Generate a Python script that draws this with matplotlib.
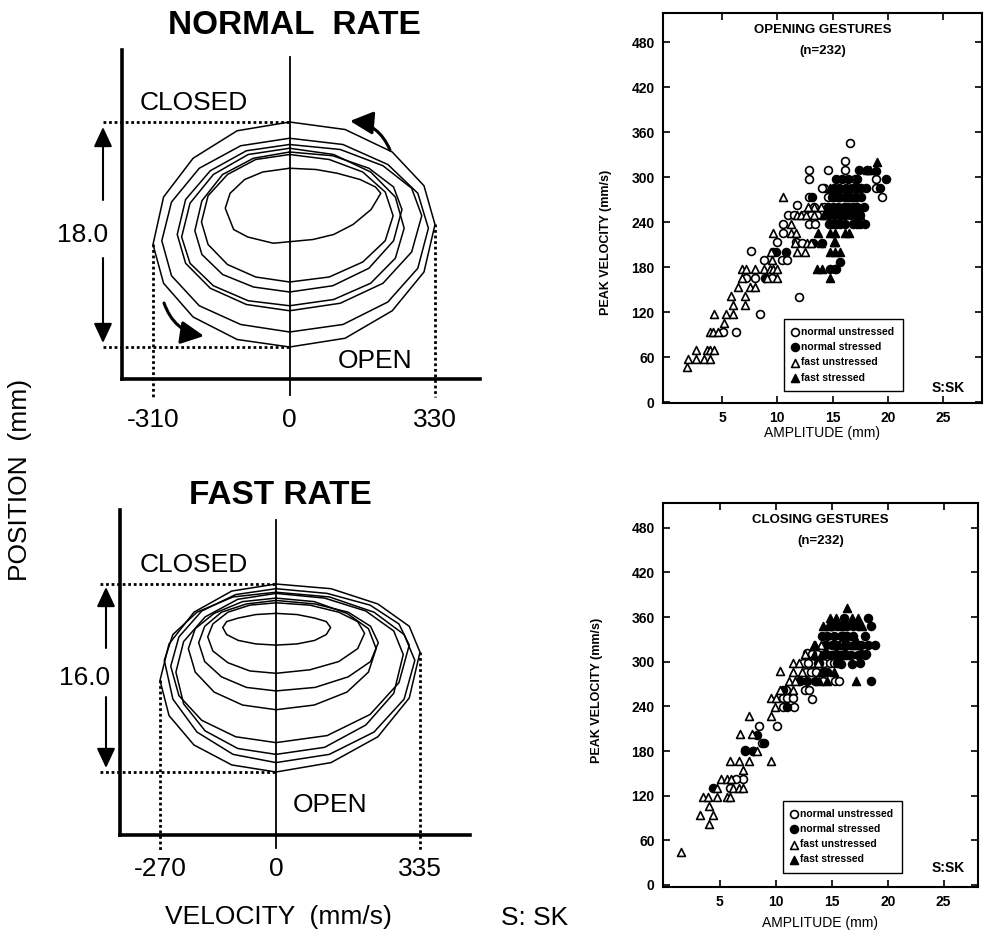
import matplotlib
matplotlib.use("Agg")
import matplotlib.pyplot as plt

plt.rcParams["font.family"] = ["Liberation Sans", "DejaVu Sans"]

# phase plane traces, (velocity mm/s, position mm), one list per cycle
normal_loops = [
    [(0, 18.0), (126, 17.4), (233, 15.6), (305, 12.9), (330, 9.8), (305, 6.0), (233, 2.9), (126, 0.7),
     (0, 0.0), (-119, 0.6), (-219, 2.4), (-286, 5.1), (-310, 8.2), (-286, 12.0), (-219, 15.1), (-119, 17.3)],
    [(0, 16.7), (121, 16.2), (223, 14.6), (291, 12.3), (315, 9.5), (291, 6.3), (223, 3.6), (121, 1.8),
     (0, 1.2), (-111, 1.8), (-205, 3.3), (-268, 5.7), (-290, 8.5), (-268, 11.6), (-205, 14.3), (-111, 16.1)],
    [(0, 16.2), (115, 15.8), (212, 14.5), (277, 12.7), (300, 10.5), (277, 7.6), (212, 5.1), (115, 3.5),
     (0, 2.9), (-98, 3.4), (-180, 4.7), (-236, 6.7), (-255, 9.0), (-236, 11.8), (-180, 14.1), (-98, 15.7)],
    [(0, 15.9), (100, 15.4), (184, 14.0), (240, 12.0), (260, 9.5), (240, 7.1), (184, 5.1), (100, 3.8),
     (0, 3.3), (-94, 3.7), (-173, 4.9), (-226, 6.7), (-245, 8.8), (-226, 11.5), (-173, 13.8), (-94, 15.4)],
    [(0, 15.6), (98, 15.3), (180, 14.3), (236, 12.8), (255, 11.0), (236, 8.5), (180, 6.3), (98, 4.9),
     (0, 4.4), (-82, 4.8), (-152, 5.8), (-199, 7.4), (-215, 9.3), (-199, 11.7), (-152, 13.8), (-82, 15.1)],
    [(0, 15.4), (90, 15.0), (166, 14.0), (217, 12.4), (235, 10.5), (217, 8.5), (166, 6.8), (90, 5.6),
     (0, 5.2), (-77, 5.6), (-141, 6.6), (-185, 8.2), (-200, 10.0), (-185, 12.1), (-141, 13.8), (-77, 15.0)],
    [(0, 14.3), (60, 14.2), (108, 13.9), (160, 13.4), (195, 12.8), (207, 12.3), (185, 11.0), (144, 9.8),
     (100, 9.0), (53, 8.6), (-37, 8.3), (-95, 8.8), (-127, 9.4), (-146, 11.1), (-135, 12.3), (-102, 13.4),
     (-61, 14.0)],
]

fast_loops = [
    [(0, 16.0), (128, 15.6), (237, 14.3), (310, 12.4), (335, 10.2), (310, 6.3), (237, 3.0), (128, 0.8),
     (0, 0.0), (-103, 0.6), (-191, 2.3), (-249, 4.8), (-270, 7.8), (-249, 10.9), (-191, 13.6), (-103, 15.4)],
    [(0, 15.3), (124, 14.9), (228, 13.6), (298, 11.7), (323, 9.5), (298, 6.2), (228, 3.4), (124, 1.5),
     (0, 0.8), (-100, 1.5), (-184, 3.4), (-240, 6.2), (-260, 9.5), (-240, 11.7), (-184, 13.6), (-100, 14.9)],
    [(0, 15.2), (113, 14.8), (209, 13.7), (274, 12.0), (296, 10.0), (274, 6.7), (209, 4.0), (113, 2.1),
     (0, 1.5), (-89, 2.0), (-165, 3.5), (-215, 5.8), (-233, 8.5), (-215, 11.1), (-165, 13.2), (-89, 14.7)],
    [(0, 15.6), (119, 15.2), (219, 14.2), (286, 12.6), (310, 10.8), (286, 7.6), (219, 4.9), (119, 3.1),
     (0, 2.5), (-94, 3.0), (-173, 4.4), (-226, 6.5), (-245, 9.0), (-226, 11.5), (-173, 13.7), (-94, 15.1)],
    [(0, 14.8), (89, 14.5), (165, 13.5), (215, 12.2), (233, 10.5), (215, 8.5), (165, 6.8), (89, 5.7),
     (0, 5.3), (-78, 5.7), (-144, 6.8), (-188, 8.5), (-204, 10.5), (-188, 12.2), (-144, 13.5), (-78, 14.5)],
    [(0, 14.6), (91, 14.3), (168, 13.6), (220, 12.4), (238, 11.0), (220, 9.4), (168, 8.1), (91, 7.2),
     (0, 6.9), (-69, 7.2), (-127, 8.1), (-166, 9.4), (-180, 11.0), (-166, 12.4), (-127, 13.6), (-69, 14.3)],
    [(0, 14.4), (79, 14.2), (146, 13.6), (190, 12.8), (206, 11.8), (190, 10.5), (146, 9.4), (79, 8.7),
     (0, 8.4), (-61, 8.6), (-112, 9.3), (-147, 10.3), (-159, 11.5), (-147, 12.6), (-112, 13.6), (-61, 14.2)],
    [(0, 13.5), (49, 13.4), (90, 13.1), (117, 12.8), (127, 12.3), (117, 11.7), (90, 11.2), (49, 10.9),
     (0, 10.8), (-47, 10.9), (-88, 11.2), (-115, 11.7), (-124, 12.3), (-115, 12.8), (-88, 13.1), (-47, 13.4)],
]

# peak velocity vs amplitude, (amplitude mm, peak velocity mm/s)
series_labels = ["normal unstressed", "normal stressed", "fast unstressed", "fast stressed"]
amp_ticks = [5, 10, 15, 20, 25]
vel_ticks = [0, 60, 120, 180, 240, 300, 360, 420, 480]

open_normal_unstr = [
    (5.1, 94), (6.3, 94), (8.4, 117), (12.0, 140), (7.6, 202), (8.8, 189), (10.4, 189), (10.9, 189),
    (7.2, 166), (8.0, 166), (10.0, 214), (10.5, 225), (10.5, 237), (11.7, 214), (11.0, 249),
    (11.8, 263), (12.9, 274), (12.9, 297), (12.9, 309), (12.9, 237), (13.4, 237), (14.2, 285),
    (14.6, 309), (14.6, 274), (16.1, 322), (16.1, 309), (16.6, 346), (17.0, 297), (18.9, 297),
    (18.9, 285), (19.5, 273), (15.2, 177), (13.3, 260), (15.1, 274), (15.7, 274), (11.5, 249),
    (12.3, 249), (13.0, 249), (14.2, 260), (16.3, 274), (17.3, 285), (12.2, 212), (9.5, 166),
    (13.6, 249), (14.0, 285), (16.9, 285)]
open_normal_str = [
    (10.8, 200), (15.7, 187), (18.9, 308), (19.8, 297), (19.3, 285), (18.1, 309), (17.2, 297),
    (15.1, 285), (15.6, 285), (16.2, 285), (16.8, 285), (15.5, 274), (16.1, 274), (17.1, 274),
    (15.0, 260), (15.5, 260), (16.0, 260), (17.2, 260), (14.7, 249), (15.1, 249), (16.6, 249),
    (17.5, 249), (14.7, 237), (15.3, 237), (16.1, 237), (16.8, 237), (17.5, 237), (13.1, 274),
    (9.6, 200), (9.9, 200), (8.9, 166), (14.0, 212), (13.2, 212), (16.4, 260), (14.8, 177),
    (15.3, 177), (17.6, 285), (18.0, 285), (14.9, 274), (16.6, 274), (17.6, 274), (14.6, 260),
    (16.8, 260), (17.8, 260), (15.6, 249), (16.1, 249), (17.0, 249), (14.9, 237), (15.7, 237),
    (17.2, 237), (17.9, 237), (15.3, 297), (15.8, 297), (16.4, 297), (17.4, 309)]
open_fast_unstr = [
    (1.8, 47), (1.9, 58), (2.6, 58), (3.4, 58), (3.9, 58), (2.6, 69), (3.6, 69), (3.9, 69),
    (4.3, 69), (3.9, 93), (4.2, 93), (4.6, 93), (5.2, 105), (4.3, 117), (5.4, 117), (6.0, 117),
    (6.0, 129), (7.1, 129), (5.8, 141), (7.1, 141), (6.4, 153), (7.5, 153), (8.0, 153), (6.8, 166),
    (9.1, 166), (10.0, 166), (6.8, 177), (7.2, 177), (8.0, 177), (8.8, 177), (9.3, 177), (9.6, 177),
    (10.0, 177), (9.5, 189), (9.4, 200), (11.8, 200), (12.5, 200), (11.6, 212), (12.7, 212),
    (9.6, 225), (11.2, 225), (11.7, 225), (11.2, 237), (11.8, 249), (12.1, 249), (13.3, 260),
    (13.9, 260), (10.5, 274), (14.2, 249), (13.0, 212), (12.6, 249), (13.3, 249), (12.8, 260)]
open_fast_str = [
    (19.0, 320), (18.1, 309), (18.4, 309), (13.7, 225), (14.8, 225), (15.2, 225), (16.1, 225),
    (16.5, 225), (14.8, 200), (15.2, 200), (15.7, 200), (14.8, 165), (13.6, 177), (14.0, 177),
    (15.1, 214), (13.9, 212), (14.8, 285), (15.7, 285), (16.9, 274), (16.1, 260), (17.5, 249),
    (14.2, 249), (15.8, 249), (16.6, 285), (15.2, 214)]

close_normal_unstr = [
    (7.1, 142), (6.4, 142), (5.9, 130), (7.2, 180), (8.5, 214), (10.1, 214), (8.0, 180), (8.8, 191),
    (12.1, 274), (12.6, 262), (13.0, 262), (13.2, 250), (10.6, 251), (11.0, 251), (11.5, 251),
    (11.6, 239), (10.6, 239), (13.2, 298), (13.8, 298), (14.3, 298), (14.8, 298), (15.3, 274),
    (15.6, 274), (12.8, 312), (15.8, 323), (16.4, 323), (12.7, 286), (13.1, 286), (13.6, 286),
    (14.2, 274), (10.9, 262), (12.4, 298), (15.2, 298), (13.7, 311), (14.4, 311), (13.2, 311),
    (12.9, 298), (15.0, 323)]
close_normal_str = [
    (16.1, 359), (18.2, 359), (18.5, 348), (18.9, 322), (18.0, 334), (14.1, 334), (18.0, 309),
    (16.8, 297), (15.8, 297), (18.5, 274), (14.6, 286), (12.2, 274), (12.8, 274), (13.5, 274),
    (15.2, 334), (15.8, 334), (16.4, 334), (14.9, 348), (15.5, 348), (16.4, 348), (17.3, 348),
    (15.1, 323), (17.0, 323), (17.6, 323), (14.9, 309), (15.8, 309), (16.7, 309), (17.3, 309),
    (8.3, 202), (8.9, 191), (8.0, 180), (4.4, 130), (7.2, 182), (10.6, 262), (11.0, 239),
    (14.5, 323), (16.2, 311), (14.3, 286), (15.0, 348), (15.9, 348), (16.9, 348), (14.6, 334),
    (16.0, 334), (16.9, 334), (14.4, 323), (15.4, 323), (16.2, 323), (17.3, 323), (18.2, 323),
    (14.5, 311), (15.4, 311), (17.6, 311), (18.1, 311), (13.9, 298), (15.5, 298), (17.5, 298)]
close_fast_unstr = [
    (1.5, 45), (3.2, 94), (4.4, 94), (4.0, 82), (4.0, 106), (3.5, 118), (3.9, 118), (4.7, 118),
    (5.6, 118), (5.9, 118), (4.7, 130), (5.1, 142), (5.6, 142), (6.0, 142), (6.2, 130), (6.7, 130),
    (7.1, 130), (5.9, 167), (6.7, 166), (7.6, 166), (7.1, 155), (9.6, 166), (6.8, 203), (7.6, 227),
    (7.9, 203), (8.3, 180), (9.6, 227), (9.6, 251), (9.9, 239), (10.4, 287), (11.2, 274),
    (11.5, 286), (11.5, 298), (11.5, 262), (10.4, 262), (12.1, 298), (13.4, 323), (14.0, 323),
    (12.3, 286), (11.7, 274), (13.8, 298), (12.6, 311), (10.0, 251)]
close_fast_str = [
    (16.4, 372), (14.8, 359), (16.8, 359), (17.3, 359), (14.2, 348), (14.7, 348), (17.7, 348),
    (13.5, 323), (17.2, 274), (14.6, 274), (15.2, 286), (13.4, 309), (14.0, 309), (16.0, 348),
    (15.6, 323), (16.3, 309), (14.0, 286), (13.9, 274), (17.0, 334), (16.9, 323), (15.4, 359)]

W, H = 991, 946
fig = plt.figure(figsize=(W / 100, H / 100), dpi=100)


def ftext(x, y, s, **kw):
    fig.text(x / W, 1 - y / H, s, ha="center", va="center", **kw)


def arrow(x0, y0, x1, y1, rad=0.0, lw=1.5, hl=0.6, hw=0.28):
    fig.axes[0].annotate(
        "", xy=(x1, H - y1), xytext=(x0, H - y0),
        xycoords="figure pixels", textcoords="figure pixels", annotation_clip=False,
        arrowprops=dict(arrowstyle=f"-|>,head_length={hl},head_width={hw}", color="black",
                        lw=lw, mutation_scale=20, shrinkA=0, shrinkB=0,
                        connectionstyle=f"arc3,rad={rad}"))


def phase_panel(loops, box, lab_px, y_open, y_closed, zero_px, dot_x, dot_bottom, pad):
    l, t, r, b = box
    ax = fig.add_axes([l / W, 1 - b / H, (r - l) / W, (b - t) / H])
    pts = [pt for loop in loops for pt in loop]
    lo = min(pts, key=lambda q: q[0])
    hi = max(pts, key=lambda q: q[0])
    amp = max(q[1] for q in pts) - min(q[1] for q in pts)
    k = (lab_px[1] - lab_px[0]) / (hi[0] - lo[0])
    x0 = lab_px[0] - lo[0] * k
    s = (y_open - y_closed) / amp
    ax.set_xlim((l - x0) / k, (r - x0) / k)
    ax.set_ylim((y_open - b) / s, (y_open - t) / s)
    for loop in loops:
        v = [q[0] for q in loop] + [loop[0][0]]
        p = [q[1] for q in loop] + [loop[0][1]]
        ax.plot(v, p, color="black", lw=1.1)
    for side in ["top", "right"]:
        ax.spines[side].set_visible(False)
    for side in ["left", "bottom"]:
        ax.spines[side].set_linewidth(2.6)
    ax.set_yticks([])
    ax.set_xticks([lo[0], 0, hi[0]])
    ax.set_xticklabels([str(lo[0]), "0", str(hi[0])], fontsize=19)
    ax.tick_params(axis="x", length=0, pad=pad)
    ax.axvline(0, ymin=(b - zero_px[1]) / (b - t), ymax=(b - zero_px[0]) / (b - t),
               color="black", lw=1.3, clip_on=False)
    dots = dict(color="black", lw=2.0, ls=(0, (1, 1)), clip_on=False)
    xl = (dot_x - x0) / k
    ax.plot([xl, 0], [amp, amp], **dots)
    ax.plot([xl, 0], [0, 0], **dots)
    yb = (y_open - dot_bottom) / s
    ax.plot([lo[0], lo[0]], [lo[1], yb], **dots)
    ax.plot([hi[0], hi[0]], [hi[1], yb], **dots)
    return ax, amp


ax_n, amp_n = phase_panel(normal_loops, (122, 50, 480, 379), (153, 435), 347, 122,
                          (57, 395), 103, 397, 21)
ax_f, amp_f = phase_panel(fast_loops, (120, 510, 470, 835), (160, 420), 772, 584,
                          (520, 848), 100, 852, 16)

ftext(294, 25, "NORMAL  RATE", fontsize=24, fontweight="bold")
ftext(194, 103, "CLOSED", fontsize=19)
ftext(375, 361, "OPEN", fontsize=19)
ftext(83, 235, f"{amp_n:.1f}", fontsize=19)
arrow(103, 200, 103, 127)
arrow(103, 258, 103, 343)
arrow(390, 150, 350, 121, rad=0.3, lw=2.2, hl=0.7, hw=0.35)
arrow(164, 303, 204, 336, rad=0.3, lw=2.2, hl=0.7, hw=0.35)

ftext(280, 495, "FAST RATE", fontsize=24, fontweight="bold")
ftext(194, 565, "CLOSED", fontsize=19)
ftext(330, 805, "OPEN", fontsize=19)
ftext(85, 678, f"{amp_f:.1f}", fontsize=19)
arrow(106, 648, 106, 587)
arrow(106, 697, 106, 768)
arrow(381, 599, 341, 574, rad=0.3, lw=2.2, hl=0.7, hw=0.35)
arrow(182, 737, 214, 765, rad=0.3, lw=2.2, hl=0.7, hw=0.35)

ftext(20, 480, "POSITION  (mm)", fontsize=19, rotation=90)
ftext(278, 917, "VELOCITY  (mm/s)", fontsize=19)
ftext(535, 918, "S: SK", fontsize=19)


def scatter_panel(box, series, xlim, ylim, title, leg_xy, sk_xy, ylab_xy, xlab_y):
    l, t, r, b = box
    ax = fig.add_axes([l / W, 1 - b / H, (r - l) / W, (b - t) / H])
    styles = [("o", "white"), ("o", "black"), ("^", "white"), ("^", "black")]
    for pts, label, (m, fc) in zip(series, series_labels, styles):
        ax.scatter([q[0] for q in pts], [q[1] for q in pts], marker=m, s=32,
                   facecolors=fc, edgecolors="black", linewidths=1.2, label=label, zorder=3)
    ax.set_xlim(*xlim)
    ax.set_ylim(*ylim)
    ax.set_xticks(amp_ticks)
    ax.set_yticks(vel_ticks)
    ax.tick_params(direction="in", top=True, right=True, length=5, width=1.2,
                   labelsize=10, pad=6)
    for lab in ax.get_xticklabels() + ax.get_yticklabels():
        lab.set_fontweight("bold")
    for sp in ax.spines.values():
        sp.set_linewidth(1.5)
    ax.text(0.5, 0.956, title, transform=ax.transAxes, ha="center", va="center",
            fontsize=9.5, fontweight="bold")
    ax.text(0.5, 0.902, "(n=232)", transform=ax.transAxes, ha="center", va="center",
            fontsize=9.5, fontweight="bold")
    ax.text(*sk_xy, "S:SK", transform=ax.transAxes, ha="center", va="center",
            fontsize=10, fontweight="bold")
    ax.set_xlabel("AMPLITUDE (mm)", fontsize=10)
    ax.xaxis.set_label_coords(0.5, xlab_y)
    ax.set_ylabel("PEAK VELOCITY (mm/s)", fontsize=9, fontweight="bold")
    ax.yaxis.set_label_coords(*ylab_xy)
    leg = ax.legend(loc="lower left", bbox_to_anchor=leg_xy, fancybox=False, framealpha=1,
                    edgecolor="black", prop=dict(weight="bold", size=7.5), handlelength=0.6,
                    handletextpad=0.25, borderpad=0.8, labelspacing=0.5, borderaxespad=0,
                    scatterpoints=1)
    leg.get_frame().set_linewidth(1.0)
    return ax


scatter_panel((663, 13, 982, 403),
              [open_normal_unstr, open_normal_str, open_fast_unstr, open_fast_str],
              (-0.34, 28.5), (-1.3, 518.7), "OPENING GESTURES", (0.379, 0.031),
              (0.893, 0.038), (-0.16, 0.413), -0.059)
scatter_panel((663, 503, 978, 887),
              [close_normal_unstr, close_normal_str, close_fast_unstr, close_fast_str],
              (-0.09, 28.07), (-2.7, 513.4), "CLOSING GESTURES", (0.381, 0.037),
              (0.905, 0.049), (-0.19, 0.513), -0.0755)

fig.savefig("out.png", dpi=100)
